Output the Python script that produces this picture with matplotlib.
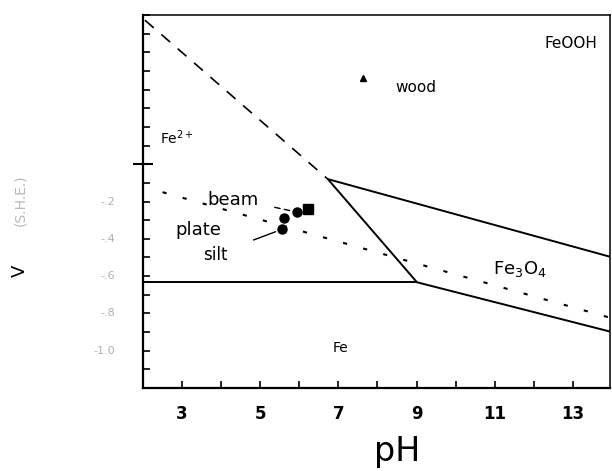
import numpy as np
import matplotlib
matplotlib.use('Agg')
import matplotlib.pyplot as plt
import matplotlib.transforms as mtransforms
from matplotlib.ticker import MultipleLocator

# Confini del diagramma (pH, E in V)
fe2_feooh_ph = [2.05, 6.73]
fe2_feooh_E = [0.772, -0.08]
fe2_mag_ph = [6.73, 9.01]
fe2_mag_E = [-0.08, -0.633]
feooh_mag_ph = [6.73, 14.0]
feooh_mag_E = [-0.08, -0.499]
fe_fe2_ph = [2.0, 9.01]
fe_fe2_E = [-0.633, -0.633]
mag_fe_ph = [9.01, 14.0]
mag_fe_E = [-0.633, -0.90]
h2_ph = [2.5, 14.0]
h2_E = [-0.15, -0.826]

# Campioni
sample_names = ['beam', 'beam', 'plate', 'silt']
sample_ph = [5.94, 6.22, 5.61, 5.56]
sample_E = [-0.257, -0.241, -0.290, -0.349]
sample_mk = ['o', 's', 'o', 'o']
wood_ph = 7.63
wood_E = 0.461

# Etichette delle regioni
region_txt = ['FeOOH', 'Fe$^{2+}$', 'Fe$_3$O$_4$', 'Fe']
region_ph = [12.28, 2.43, 10.95, 6.86]
region_E = [0.649, 0.14, -0.56, -0.987]
region_fs = [11, 10, 13, 10]

xtick_vals = [3, 5, 7, 9, 11, 13]
ytick_lab_vals = [-0.2, -0.4, -0.6, -0.8, -1.0]
ytick_lab_txt = ['-.2', '-.4', '-.6', '-.8', '-1.0']

fig = plt.figure(figsize=(6.12, 4.71), dpi=100)
ax = fig.add_axes([143/612, 1-388/471, 467/612, 373/471])

kw = dict(color='black', lw=1.4, solid_capstyle='butt')
ax.plot(fe2_feooh_ph, fe2_feooh_E, color='black', lw=1.2, ls=(0, (7, 6)))
ax.plot(fe2_mag_ph, fe2_mag_E, **kw)
ax.plot(feooh_mag_ph, feooh_mag_E, **kw)
ax.plot(fe_fe2_ph, fe_fe2_E, **kw)
ax.plot(mag_fe_ph, mag_fe_E, **kw)
ax.plot(h2_ph, h2_E, color='black', lw=1.5, ls=(0, (2, 8)))

for i in range(len(sample_ph)):
    ax.plot(sample_ph[i], sample_E[i], marker=sample_mk[i], color='black',
            ms=6.5, ls='none')
ax.plot(wood_ph, wood_E, marker='^', color='black', ms=5, ls='none')

# Etichette dei campioni
ax.annotate('beam', xy=(sample_ph[0], sample_E[0]), xytext=(3.64, -0.193),
            fontsize=13, va='center', ha='left',
            arrowprops=dict(arrowstyle='-', color='black', lw=1.0, ls=(0, (4, 3)),
                            relpos=(1, 0.3), shrinkA=10, shrinkB=5))
ax.text(2.82, -0.354, 'plate', fontsize=13, va='center', ha='left')
ax.annotate('silt', xy=(sample_ph[3], sample_E[3]), xytext=(3.53, -0.488),
            fontsize=12, va='center', ha='left',
            arrowprops=dict(arrowstyle='-', color='black', lw=1.0,
                            relpos=(1, 0.8), shrinkA=18, shrinkB=5))
ax.text(8.45, 0.41, 'wood', fontsize=11, va='center', ha='left')

for i in range(len(region_txt)):
    ax.text(region_ph[i], region_E[i], region_txt[i], fontsize=region_fs[i],
            va='center', ha='left')

ax.set_xlim(2, 13.95)
ax.set_ylim(-1.2, 0.8)

ax.set_xticks(xtick_vals)
ax.set_xticklabels([str(v) for v in xtick_vals], fontsize=12, fontweight='bold')
ax.xaxis.set_minor_locator(MultipleLocator(1))
ax.tick_params(axis='x', which='both', direction='in', length=5, width=1.2, pad=12)

ax.set_yticks([0.0])
ax.set_yticklabels([''])
ax.yaxis.set_minor_locator(MultipleLocator(0.1))
ax.tick_params(axis='y', which='major', direction='inout', length=14, width=1.5)
ax.tick_params(axis='y', which='minor', direction='in', length=5, width=1.2)

trans = mtransforms.blended_transform_factory(ax.transAxes, ax.transData)
for v, t in zip(ytick_lab_vals, ytick_lab_txt):
    ax.text(-0.06, v, t, transform=trans, ha='right', va='center',
            fontsize=8, color='#b0b0b0')

for s in ['left', 'bottom']:
    ax.spines[s].set_linewidth(1.6)
for s in ['top', 'right']:
    ax.spines[s].set_linewidth(1.1)

fig.text(397/612, 1-461/471, 'pH', fontsize=24, ha='center', va='baseline')
fig.text(20/612, 1-271/471, 'V', fontsize=13, rotation=90, ha='center', va='center')
fig.text(20/612, 1-200/471, '(S.H.E.)', fontsize=10, rotation=90, ha='center',
         va='center', color='#b8b8b8')

fig.savefig('out.png', dpi=100)
